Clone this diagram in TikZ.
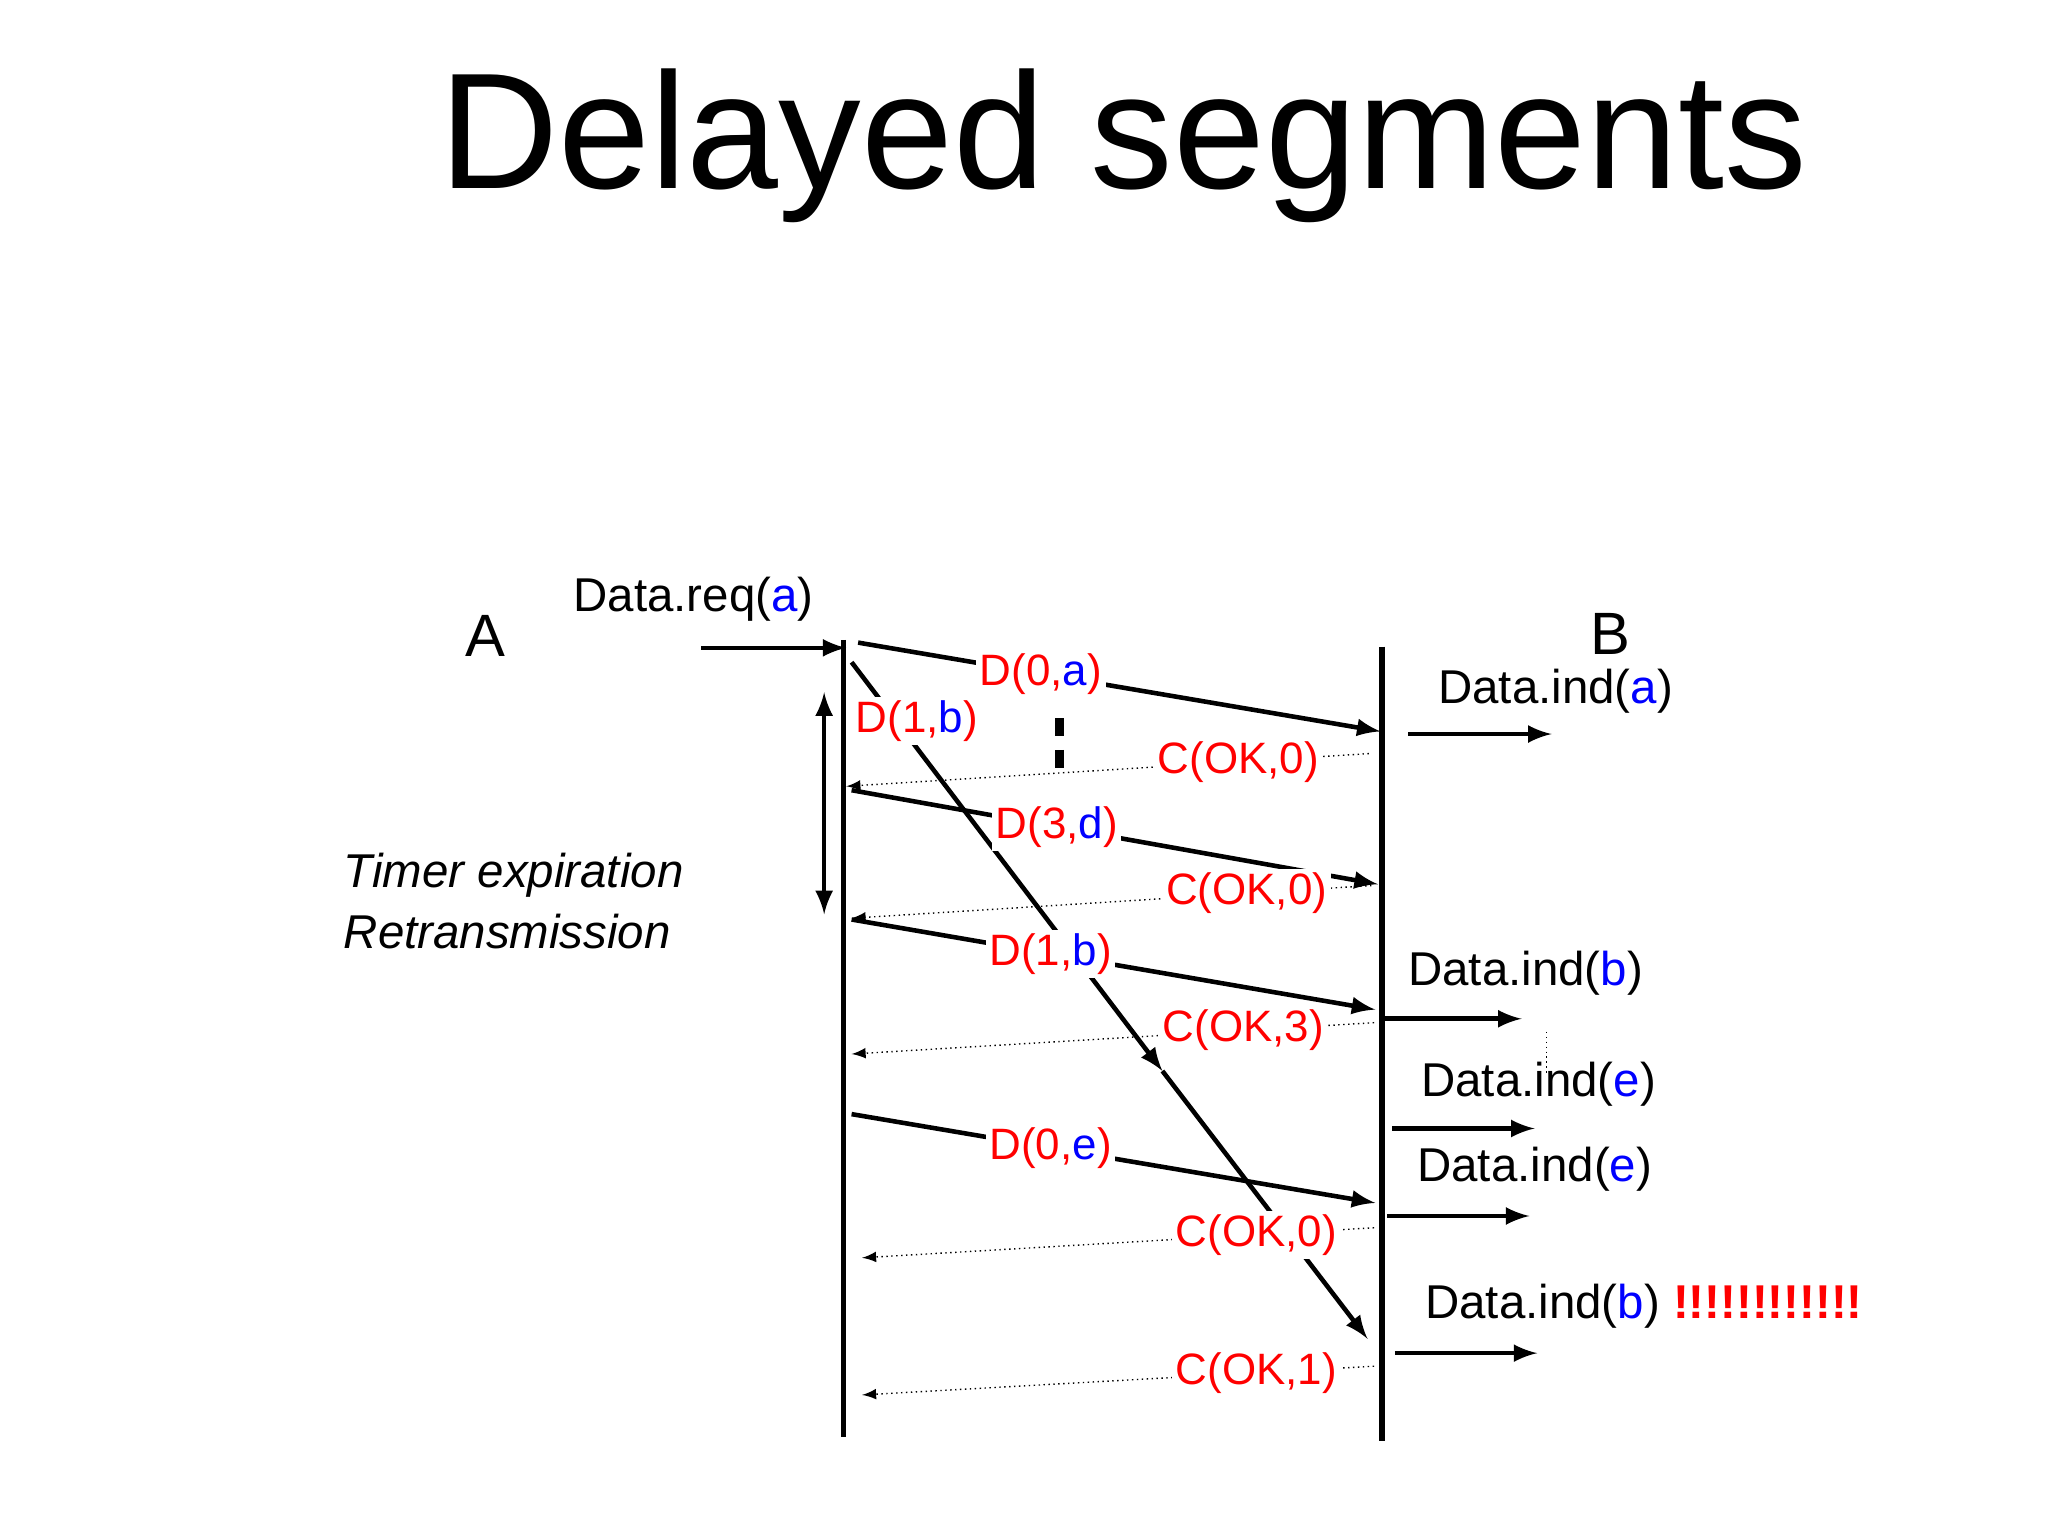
\documentclass[tikz,border=0pt]{standalone}
\usepackage{fontspec}
\setmainfont{Liberation Sans}
\usetikzlibrary{arrows,positioning,calc}

\begin{document}
\begin{tikzpicture}[x=0.01306cm,y=-0.01306cm]
  \tikzstyle{msg}=[line width=1.3pt, -latex]
  \tikzstyle{ack}=[densely dotted, -latex]
  \tikzstyle{lbl}=[fill=white, inner sep=1pt, font=\fontsize{12.5}{15}\selectfont, text=red]
  \tikzstyle{txt}=[font=\fontsize{13.5}{16}\selectfont, inner sep=1pt]
  \useasboundingbox (0,0) rectangle (1568,1176);

  % Titel
  \node[font=\fontsize{47}{56}\selectfont] (title) at (860,112) {Delayed segments};

  % Zeitachsen
  \coordinate (a0) at (646,490); \coordinate (a1) at (646,1100);
  \coordinate (b0) at (1058,495); \coordinate (b1) at (1058,1103);
  \draw[line width=1.5pt] (a0) -- (a1);
  \draw[line width=1.5pt] (b0) -- (b1);
  \node[txt, font=\fontsize{17}{20}\selectfont] (nA) at (372,487) {A};
  \node[txt, font=\fontsize{17}{20}\selectfont] (nB) at (1233,485) {B};

  % Anforderung
  \node[txt] (req) at (531,459) {Data.req(\textcolor{blue}{a})};
  \coordinate (r0) at (537,496); \coordinate (r1) at (648,496);
  \draw[msg] (r0) -- (r1);

  % Verzoegertes Segment D(1,b)
  \coordinate (d0) at (652,507); \coordinate (dm) at (890,820); \coordinate (d1) at (1047,1025);
  \draw[msg] (d0) -- (dm);
  \draw[msg] (dm) -- (d1);
  \node[lbl] (l1b) at (702,552) {D(1,\textcolor{blue}{b})};

  % Segmente und Bestaetigungen
  \coordinate (s1) at (657,492); \coordinate (e1) at (1057,560);
  \draw[msg] (s1) -- node[lbl, pos=0.35] (l0a) {D(0,\textcolor{blue}{a})} (e1);
  \coordinate (s2) at (1048,577); \coordinate (e2) at (648,602);
  \draw[ack] (s2) -- node[lbl, pos=0.25] (c1) {C(OK,0)} (e2);
  \coordinate (s3) at (652,605); \coordinate (e3) at (1055,677);
  \draw[msg] (s3) -- node[lbl, pos=0.39] (l3d) {D(3,\textcolor{blue}{d})} (e3);
  \coordinate (s4) at (1050,678); \coordinate (e4) at (652,703);
  \draw[ack] (s4) -- node[lbl, pos=0.24] (c2) {C(OK,0)} (e4);
  \coordinate (s5) at (652,704); \coordinate (e5) at (1053,773);
  \draw[msg] (s5) -- node[lbl, pos=0.38] (l1b2) {D(1,\textcolor{blue}{b})} (e5);
  \coordinate (s6) at (1052,783); \coordinate (e6) at (652,807);
  \draw[ack] (s6) -- node[lbl, pos=0.25] (c3) {C(OK,3)} (e6);
  \coordinate (s7) at (652,853); \coordinate (e7) at (1053,921);
  \draw[msg] (s7) -- node[lbl, pos=0.38] (l0e) {D(0,\textcolor{blue}{e})} (e7);
  \coordinate (s8) at (1052,940); \coordinate (e8) at (660,963);
  \draw[ack] (s8) -- node[lbl, pos=0.23] (c4) {C(OK,0)} (e8);
  \coordinate (s9) at (1052,1046); \coordinate (e9) at (660,1068);
  \draw[ack] (s9) -- node[lbl, pos=0.23] (c5) {C(OK,1)} (e9);

  % Punkte
  \coordinate (p0) at (811,550); \coordinate (p1) at (811,597);
  \draw[line width=2.5pt, dash pattern=on 5pt off 4pt] (p0) -- (p1);
  \coordinate (q0) at (1184,790); \coordinate (q1) at (1184,822);
  \draw[densely dotted] (q0) -- (q1);

  % Timer
  \coordinate (t0) at (631,530); \coordinate (t1) at (631,700);
  \draw[line width=1.3pt, latex-latex] (t0) -- (t1);
  \node[txt, anchor=west, font=\fontsize{13.5}{16}\itshape] (tim) at (260,670) {Timer expiration};
  \node[txt, anchor=west, font=\fontsize{13.5}{16}\itshape] (ret) at (260,713) {Retransmission};

  % Auslieferung an B
  \node[txt] (ia) at (1191,529) {Data.ind(\textcolor{blue}{a})};
  \coordinate (i1) at (1078,562); \coordinate (o1) at (1188,562);
  \draw[msg] (i1) -- (o1);
  \node[txt] (ib) at (1168,745) {Data.ind(\textcolor{blue}{b})};
  \coordinate (i2) at (1058,780); \coordinate (o2) at (1165,780);
  \draw[msg] (i2) -- (o2);
  \node[txt] (ie1) at (1178,830) {Data.ind(\textcolor{blue}{e})};
  \coordinate (i3) at (1066,864); \coordinate (o3) at (1175,864);
  \draw[msg] (i3) -- (o3);
  \node[txt] (ie2) at (1175,895) {Data.ind(\textcolor{blue}{e})};
  \coordinate (i4) at (1062,931); \coordinate (o4) at (1171,931);
  \draw[msg] (i4) -- (o4);
  \node[txt, anchor=west] (ib2) at (1088,1000) {Data.ind(\textcolor{blue}{b}) \textcolor{red}{\textbf{!!!!!!!!!!!!}}};
  \coordinate (i5) at (1068,1036); \coordinate (o5) at (1177,1036);
  \draw[msg] (i5) -- (o5);
\end{tikzpicture}
\end{document}
